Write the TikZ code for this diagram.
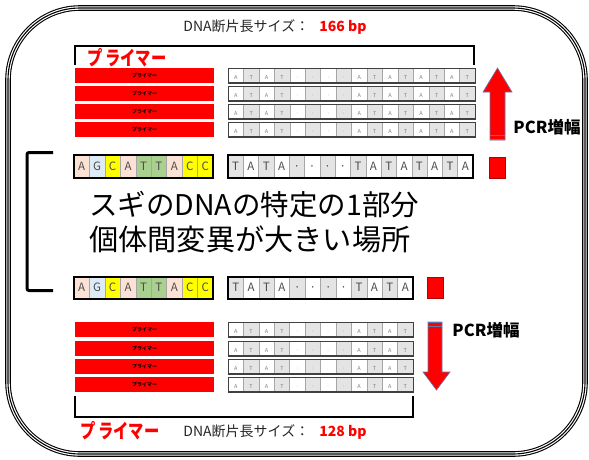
\documentclass[tikz,border=0pt]{standalone}
\usepackage{fontspec}
\setmainfont{Noto Sans CJK JP}
\definecolor{cw}{HTML}{FFFFFF}
\definecolor{cg}{HTML}{E4E4E4}
\definecolor{cp}{HTML}{FBE2D5}
\definecolor{cb}{HTML}{DDEBF7}
\definecolor{cy}{HTML}{FFFF00}
\definecolor{cn}{HTML}{A9D08E}
\definecolor{txtgray}{HTML}{262626}
\definecolor{arrowline}{HTML}{5B7BB0}
\definecolor{dred}{HTML}{B00000}
\tikzset{
  cellbox/.style={draw=gray!70,line width=0.4pt,inner sep=0pt,outer sep=0pt,text height=0.72em,text depth=0pt},
  smalltxt/.style={font=\fontsize{5.5}{5.5}\selectfont,text=gray},
  bigtxt/.style={font=\fontsize{11.5}{11.5}\selectfont,text=black!70},
  thinframe/.style={draw=black!75,line width=0.9pt},
  thickframe/.style={draw=black,line width=2pt},
  redbar/.style={fill=red,draw=none,inner sep=0pt,minimum width=139pt,minimum height=15pt,font=\fontsize{5}{5}\selectfont\bfseries},
  redsq/.style={fill=red,draw=dred,line width=0.8pt,inner sep=0pt,minimum width=16pt,minimum height=21pt},
  bigarrow/.style={fill=red,draw=arrowline,line width=0.6pt},
  pcr/.style={font=\fontsize{16.5}{16.5}\selectfont\bfseries},
}
\newcommand\seqrow[7]{%
  \foreach \l/\c [count=\i from 0] in {#7}{
    \node[cellbox,#6,fill=\c,minimum width=#4pt,minimum height=#5pt] (#1\i) at ({#2+(\i+0.5)*#4},{#3+0.5*#5}) {\l};
  }
}
\begin{document}
\begin{tikzpicture}[x=1pt,y=-1pt]
\useasboundingbox (0,0) rectangle (589,459);
% outer triple frame
\draw[line width=5.6pt,rounded corners=72pt] (8,8) rectangle (585,454);
\draw[line width=3.4pt,white,rounded corners=72pt] (8,8) rectangle (585,454);
\draw[line width=1.1pt,rounded corners=72pt] (8,8) rectangle (585,454);

% top title
\node (title1) at (275,27) {\fontsize{14}{14}\selectfont\color{txtgray}DNA断片長サイズ：\hspace{10pt}\textcolor{red}{\bfseries 166 bp}};
% top bracket
\coordinate (tbl) at (75,65);
\coordinate (tbr) at (474,65);
\draw[line width=1.6pt] (tbl) |- (474,46) -- (tbr);

% top primer bars
\foreach \y [count=\k] in {68,86,104,122}{
  \node[redbar] (tbar\k) at (144.5,\y+7.5) {プライマー};
  \seqrow{ts\k-}{228}{\y}{15.44}{15}{smalltxt}{A/cw,T/cg,A/cw,T/cg,·/cw,·/cg,·/cw,·/cg,A/cw,T/cg,A/cw,T/cg,A/cw,T/cg,A/cw,T/cg}
  \draw[thinframe] (228,\y) rectangle (475,\y+15);
  \draw[black!75,line width=1.6pt] (228,\y+15) -- (475,\y+15);
}
\node[text=red,font=\fontsize{18}{18}\selectfont\bfseries] (prim1) at (127,58) {\scalebox{0.85}[1.1]{プ\,ライマー}};

% up arrow
\draw[bigarrow] (490,140) -- (490,92) -- (483,92) -- (497.5,68) -- (512,92) -- (505,92) -- (505,140) -- cycle;
\draw[arrowline,line width=1pt] (490,135.5) -- (505,135.5);
\draw[arrowline,line width=1pt] (490,139.3) -- (505,139.3);
\node[pcr] (pcr1) at (547,127) {PCR増幅};

% left bracket
\draw[line width=3pt,rounded corners=2pt] (53,152.5) -- (27,152.5) -- (27,290.5) -- (53,290.5);

% middle row 1
\seqrow{c1-}{74}{155}{15.44}{23}{bigtxt}{A/cp,G/cb,C/cy,A/cp,T/cn,T/cn,A/cp,C/cy,C/cy}
\draw[thickframe] (74,155) rectangle (213,178);
\seqrow{g1-}{228}{155}{15.31}{23}{bigtxt}{T/cg,A/cw,T/cg,A/cw,·/cg,·/cw,·/cg,·/cw,T/cg,A/cw,T/cg,A/cw,T/cg,A/cw,T/cg,A/cw}
\draw[thickframe] (228,155) rectangle (473,178);
\node[redsq] (sq1) at (497,167.5) {};

% big text
\node[anchor=west,inner sep=0pt,font=\fontsize{28.5}{28.5}\selectfont] (t1) at (89,205) {スギのDNAの特定の1部分};
\node[anchor=west,inner sep=0pt,font=\fontsize{29.2}{29.2}\selectfont] (t2) at (89,239) {個体間変異が大きい場所};

% middle row 2
\seqrow{c2-}{74}{277}{15.44}{22}{bigtxt}{A/cp,G/cb,C/cy,A/cp,T/cn,T/cn,A/cp,C/cy,C/cy}
\draw[thickframe] (74,277) rectangle (213,299);
\seqrow{g2-}{228}{277}{15.42}{22}{bigtxt}{T/cg,A/cw,T/cg,A/cw,·/cg,·/cw,·/cg,·/cw,T/cg,A/cw,T/cg,A/cw}
\draw[thickframe] (228,277) rectangle (413,299);
\node[redsq] (sq2) at (435.5,288) {};

% bottom primer bars
\foreach \y [count=\k] in {322,341,359,377}{
  \node[redbar] (bbar\k) at (144.5,\y+7.5) {プライマー};
  \seqrow{bs\k-}{228}{\y}{15.42}{15}{smalltxt}{A/cw,T/cg,A/cw,T/cg,·/cw,·/cg,·/cw,·/cg,A/cw,T/cg,A/cw,T/cg}
  \draw[thinframe] (228,\y) rectangle (413,\y+15);
  \draw[black!75,line width=1.6pt] (228,\y+15) -- (413,\y+15);
}

% down arrow
\draw[bigarrow] (428,322) -- (428,372) -- (423,372) -- (436.5,390) -- (450,372) -- (442,372) -- (442,322) -- cycle;
\draw[arrowline,line width=1pt] (428,322.5) -- (442,322.5);
\draw[arrowline,line width=1pt] (428,326) -- (442,326);
\node[pcr] (pcr2) at (486,330) {PCR増幅};

% bottom bracket
\coordinate (bbl) at (75,396);
\coordinate (bbr) at (413,396);
\draw[line width=1.8pt] (bbl) |- (413,417) -- (bbr);

% bottom labels
\node[text=red,font=\fontsize{18}{18}\selectfont\bfseries] (prim2) at (120,431) {\scalebox{0.85}[1.1]{プ\,ライマー}};
\node (title2) at (275,432) {\fontsize{14}{14}\selectfont\color{txtgray}DNA断片長サイズ：\hspace{10pt}\textcolor{red}{\bfseries 128 bp}};
\end{tikzpicture}
\end{document}
